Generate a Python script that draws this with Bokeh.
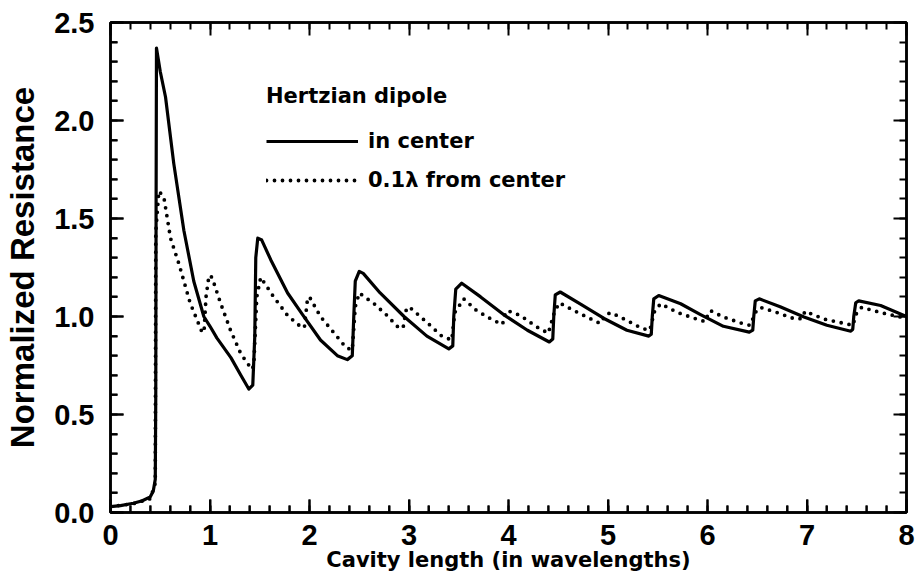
import numpy as np
from bokeh.plotting import figure
from bokeh.models import LinearAxis, Legend, LegendItem, SingleIntervalTicker, CustomJSTickFormatter
from bokeh.embed import file_html
from bokeh.resources import INLINE

# ---- data ----
center_x = [0.00, 0.10, 0.23, 0.32, 0.40, 0.43, 0.45, 0.455, 0.458, 0.462, 0.50, 0.553, 0.636, 0.737,
            0.837, 0.938, 1.00, 1.07, 1.21, 1.31, 1.39, 1.43, 1.45, 1.46, 1.48, 1.52, 1.61, 1.78, 1.93, 2.11,
            2.28, 2.38, 2.43, 2.445, 2.46, 2.50, 2.54, 2.71, 2.95, 3.18, 3.40, 3.44, 3.45, 3.47,
            3.53, 3.72, 3.95, 4.19, 4.41, 4.445, 4.455, 4.47, 4.52, 4.72, 4.96, 5.19, 5.41, 5.435,
            5.445, 5.46, 5.51, 5.73, 5.93, 6.16, 6.42, 6.455, 6.465, 6.48, 6.52, 6.73, 6.97, 7.20,
            7.44, 7.46, 7.47, 7.49, 7.52, 7.74, 8.00]
center_y = [0.03, 0.035, 0.047, 0.06, 0.08, 0.11, 0.17, 0.6, 1.5, 2.37, 2.25, 2.12, 1.78, 1.44,
            1.18, 1.00, 0.95, 0.89, 0.79, 0.70, 0.63, 0.65, 0.9, 1.3, 1.40, 1.39, 1.29, 1.12, 1.01, 0.88,
            0.80, 0.78, 0.80, 1.0, 1.18, 1.23, 1.22, 1.12, 1.00, 0.90, 0.835, 0.85, 1.0, 1.14,
            1.17, 1.10, 1.01, 0.93, 0.87, 0.885, 1.0, 1.11, 1.125, 1.065, 0.99, 0.93, 0.90, 0.91,
            1.0, 1.09, 1.107, 1.065, 1.01, 0.95, 0.92, 0.93, 1.0, 1.08, 1.09, 1.05, 0.997, 0.955,
            0.925, 0.935, 1.0, 1.07, 1.08, 1.056, 1.00]

off_x = [0.00, 0.23, 0.40, 0.45, 0.455, 0.486, 0.536, 0.603, 0.687, 0.80, 0.92, 0.94, 0.96, 0.99,
         1.02, 1.105, 1.206, 1.31, 1.42, 1.44, 1.47, 1.51, 1.64, 1.78, 1.93, 1.95, 1.98, 2.00,
         2.11, 2.24, 2.37, 2.43, 2.46, 2.50, 2.65, 2.78, 2.88, 2.94, 2.97, 3.00, 3.18, 3.33,
         3.43, 3.46, 3.55, 3.68, 3.85, 3.94, 3.97, 3.99, 4.12, 4.29, 4.40, 4.46, 4.51, 4.66,
         4.79, 4.92, 4.98, 5.03, 5.19, 5.34, 5.42, 5.47, 5.53, 5.70, 5.93, 5.98, 6.01, 6.03,
         6.16, 6.36, 6.43, 6.48, 6.53, 6.70, 6.88, 6.95, 6.98, 7.17, 7.39, 7.46, 7.50, 7.55,
         7.74, 7.94, 8.00]
off_y = [0.03, 0.045, 0.07, 0.15, 1.43, 1.64, 1.61, 1.40, 1.27, 1.07, 0.92, 0.92, 1.10, 1.21,
         1.20, 1.07, 0.93, 0.81, 0.73, 0.75, 1.10, 1.20, 1.10, 1.005, 0.94, 0.95, 1.09, 1.10,
         1.00, 0.92, 0.84, 0.83, 1.05, 1.12, 1.065, 1.005, 0.95, 0.94, 1.03, 1.05, 0.97, 0.90,
         0.88, 1.02, 1.09, 1.03, 0.98, 0.96, 1.02, 1.03, 1.005, 0.945, 0.915, 1.02, 1.07, 1.03,
         0.997, 0.965, 1.01, 1.02, 0.98, 0.94, 0.93, 1.03, 1.065, 1.02, 0.98, 0.975, 1.02, 1.03,
         0.997, 0.963, 0.955, 1.02, 1.047, 1.02, 0.987, 0.99, 1.027, 0.987, 0.963, 0.955, 1.02, 1.047,
         1.02, 0.997, 0.99]

x_ticks = [0, 1, 2, 3, 4, 5, 6, 7, 8]
y_ticks = [0.0, 0.5, 1.0, 1.5, 2.0, 2.5]

legend_title = "Hertzian dipole"
series_labels = ["in center", "0.1\u03bb from center"]
x_label = "Cavity length (in wavelengths)"
y_label = "Normalized Resistance"

HELV = "Liberation Sans"
GEOM = "DejaVu Sans"

W, H = 916, 587
BL, BR, BT, BB = 110, 10, 22, 75

p = figure(width=W, height=H, x_range=(x_ticks[0], x_ticks[-1]), y_range=(y_ticks[0], y_ticks[-1]),
           output_backend="svg", toolbar_location=None,
           min_border_left=BL, min_border_right=BR, min_border_top=BT, min_border_bottom=BB)
p.xgrid.visible = False
p.ygrid.visible = False
p.background_fill_color = "white"
p.border_fill_color = "white"
p.outline_line_color = "black"
p.outline_line_width = 2.5


def style_axis(ax, labels=True, size="29px"):
    ax.axis_line_color = "black"
    ax.axis_line_width = 2.5
    ax.major_tick_line_color = "black"
    ax.minor_tick_line_color = "black"
    ax.major_tick_line_width = 2
    ax.minor_tick_line_width = 2
    ax.major_tick_in = 13
    ax.major_tick_out = 0
    ax.minor_tick_in = 7
    ax.minor_tick_out = 0
    if labels:
        ax.major_label_text_font = HELV
        ax.major_label_text_font_size = size
        ax.major_label_text_font_style = "bold"
        ax.major_label_text_color = "black"
        ax.axis_label_text_color = "black"
    else:
        ax.major_label_text_color = None
        ax.major_label_text_font_size = "1px"
        ax.major_label_standoff = 0


xa = p.xaxis[0]
xa.ticker = SingleIntervalTicker(interval=1, num_minor_ticks=5)
xa.axis_label = x_label
style_axis(xa, size="29px")
xa.major_label_standoff = 12
xa.axis_label_standoff = 0
xa.axis_label_text_font = GEOM
xa.axis_label_text_font_size = "21px"
xa.axis_label_text_font_style = "bold"

ya = p.yaxis[0]
ya.ticker = SingleIntervalTicker(interval=0.5, num_minor_ticks=5)
ya.axis_label = y_label
style_axis(ya, size="29px")
ya.major_label_standoff = 16
ya.axis_label_standoff = 10
ya.formatter = CustomJSTickFormatter(code="return tick.toFixed(1);")
ya.axis_label_text_font = HELV
ya.axis_label_text_font_size = "33px"
ya.axis_label_text_font_style = "bold"

top = LinearAxis(ticker=SingleIntervalTicker(interval=1, num_minor_ticks=5))
style_axis(top, labels=False)
p.add_layout(top, "above")
right = LinearAxis(ticker=SingleIntervalTicker(interval=0.5, num_minor_ticks=5))
style_axis(right, labels=False)
p.add_layout(right, "right")

# inward ticks along bottom and left edges, drawn on top of everything
frame_w = W - BL - BR
frame_h = H - BT - BB
x_span = x_ticks[-1] - x_ticks[0]
y_span = y_ticks[-1] - y_ticks[0]
x_minor = [t + k * (x_ticks[1] - x_ticks[0]) / 5 for t in x_ticks[:-1] for k in range(1, 5)]
y_minor = [t + k * (y_ticks[1] - y_ticks[0]) / 5 for t in y_ticks[:-1] for k in range(1, 5)]
y0, x0 = y_ticks[0], x_ticks[0]
for xs, px in ((x_ticks, 13), (x_minor, 7)):
    p.segment(x0=xs, y0=[y0] * len(xs), x1=xs, y1=[y0 + px * y_span / frame_h] * len(xs),
              line_color="black", line_width=2, level="overlay")
for ys, px in ((y_ticks, 13), (y_minor, 7)):
    p.segment(x0=[x0] * len(ys), y0=ys, x1=[x0 + px * x_span / frame_w] * len(ys), y1=ys,
              line_color="black", line_width=2, level="overlay")

r1 = p.line(center_x, center_y, line_color="black", line_width=3.2, line_join="round")
r2 = p.line(off_x, off_y, line_color="black", line_width=3.8, line_dash="0 8", line_cap="round")

legend = Legend(items=[LegendItem(label=series_labels[0], renderers=[r1]),
                       LegendItem(label=series_labels[1], renderers=[r2])],
                location=(156, 317), title=legend_title,
                title_text_font=GEOM, title_text_font_size="21px", title_text_font_style="bold",
                title_text_color="black",
                label_text_font=GEOM, label_text_font_size="21px", label_text_font_style="bold",
                label_text_color="black",
                glyph_width=92, glyph_height=30, label_height=30, spacing=9, label_standoff=10,
                padding=0, margin=0, title_standoff=18,
                border_line_alpha=0, background_fill_alpha=0)
p.add_layout(legend, "center")

open("out.html", "w").write(file_html(p, INLINE))
